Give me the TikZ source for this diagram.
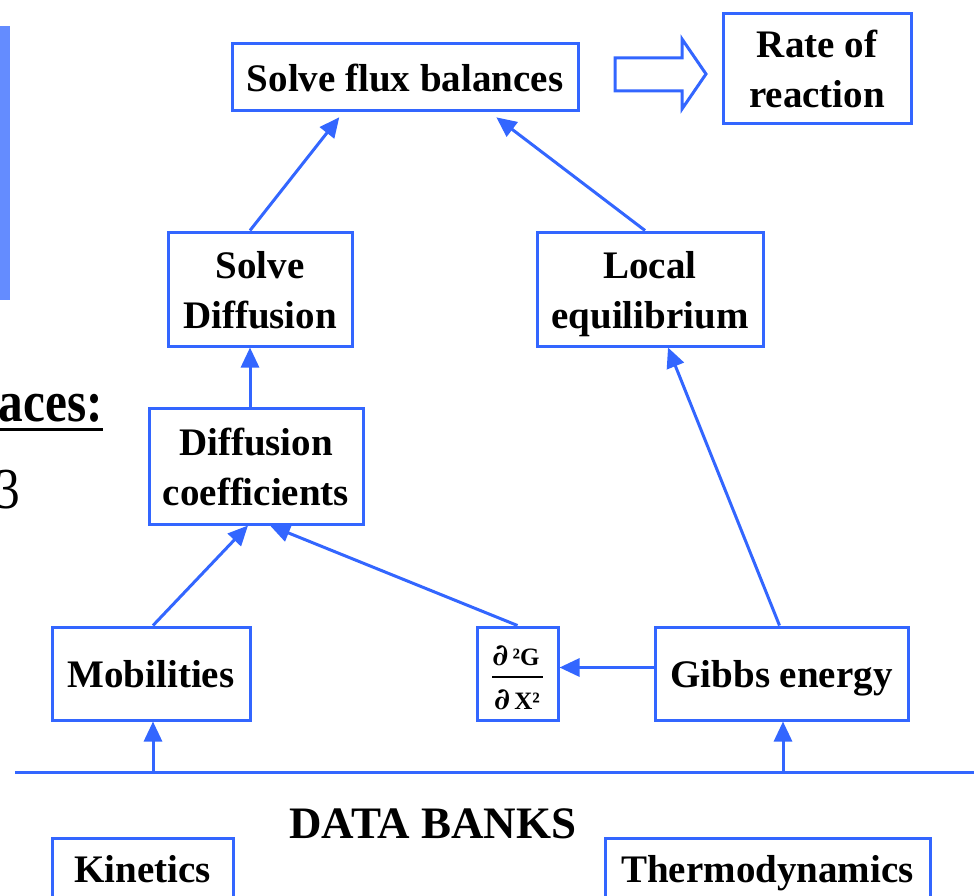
\documentclass[tikz,border=0pt]{standalone}
\usepackage{fontspec}
\setmainfont{Liberation Serif}
\newfontfamily\dvserif{DejaVu Serif}
\usetikzlibrary{arrows.meta}
\definecolor{bl}{RGB}{51,102,255}
\definecolor{barblue}{RGB}{100,140,255}
\newcommand{\bxt}[1]{\raisebox{-4pt}[\height][\depth]{\begin{tabular}{@{}c@{}}#1\end{tabular}}}
\begin{document}
\begin{tikzpicture}[x=1pt,y=-1pt,
  box/.style={draw=bl, line width=3pt, inner sep=0pt,
    font=\bfseries\fontsize{39}{50}\selectfont},
  arr/.style={draw=bl, line width=3pt, -{Triangle[length=20pt,width=18pt]}},
  plain/.style={draw=bl, line width=3pt},
  fractxt/.style={font=\bfseries\fontsize{25}{30}\selectfont, anchor=base, inner sep=0pt}]
\useasboundingbox (0,0) rectangle (974,896);
\clip (0,0) rectangle (974,896);
% left fragments of the slide
\fill[barblue] (0,26) rectangle (10,300);
\node[font=\bfseries\fontsize{58}{60}\selectfont, anchor=base east, inner sep=0pt] (ac) at (103,421) {\scalebox{0.85}[1]{aces:}};
\draw[black, line width=3pt] (0,429.5) -- (103,429.5);
\node[font=\fontsize{58}{60}\selectfont, anchor=base east, inner sep=0pt] (three) at (20,508) {\scalebox{0.85}[1]{3}};
% boxes
\node[box, minimum width=346, minimum height=67] (fb) at (405,77.5) {\bxt{Solve flux balances}};
\node[box, minimum width=188, minimum height=110] (rr) at (817,69) {\bxt{Rate of\\reaction}};
\node[box, minimum width=184, minimum height=114] (sd) at (260,289) {\bxt{Solve\\Diffusion}};
\node[box, minimum width=226, minimum height=114] (le) at (650,289) {\bxt{Local\\equilibrium}};
\node[box, minimum width=214, minimum height=116] (dc) at (256,466) {\bxt{Diffusion\\coefficients}};
\node[box, minimum width=198, minimum height=93] (mob) at (151,673.5) {\bxt{Mobilities}};
\node[box, minimum width=81, minimum height=93] (fr) at (517.5,673.5) {};
\node[box, minimum width=253, minimum height=93] (gib) at (781.5,673.5) {\bxt{Gibbs energy}};
% fraction
\node[fractxt] (num) at (516,665) {{\dvserif\fontsize{30}{30}\selectfont ∂}\,²G};
\draw[black, line width=2.5pt] (492,677) -- (543,677);
\node[fractxt] (den) at (517,709) {{\dvserif\fontsize{30}{30}\selectfont ∂}\,X²};
% hollow arrow
\draw[plain, line join=miter] (615,58) -- (682,58) -- (682,39) -- (706,74) -- (682,109) -- (682,91) -- (615,91) -- cycle;
% connectors
\draw[arr, shorten >=6pt] ([xshift=-10pt]sd.north) -- ([xshift=-62pt]fb.south);
\draw[arr, shorten >=8pt] ([xshift=-5pt]le.north) -- ([xshift=85pt]fb.south);
\draw[arr] ([xshift=-6pt]dc.north) -- ([xshift=-10pt]sd.south);
\draw[arr] ([xshift=2pt]mob.north) -- ([xshift=-8pt]dc.south);
\draw[arr] (fr.north) -- ([xshift=14pt]dc.south);
\draw[arr] ([yshift=6pt]gib.west) -- ([yshift=6pt]fr.east);
\draw[arr] ([xshift=-2pt]gib.north) -- ([xshift=18pt]le.south);
% data bank line
\draw[plain] (15,772) -- (974,772);
\coordinate (lm) at (153,772);
\coordinate (lg) at (783,772);
\draw[arr] (lm) -- ([xshift=2pt]mob.south);
\draw[arr] (lg) -- ([xshift=1.5pt]gib.south);
\node[font=\bfseries\fontsize{45}{50}\selectfont, anchor=base, inner sep=0pt] (db) at (433,838) {DATA BANKS};
\node[box, minimum width=181, minimum height=130, anchor=north, text height=30pt, text depth=72pt] (kin) at (142.5,836.5) {Kinetics};
\node[box, minimum width=325, minimum height=130, anchor=north, text height=30pt, text depth=72pt] (thermo) at (767.5,836.5) {Thermodynamics};
\end{tikzpicture}
\end{document}
